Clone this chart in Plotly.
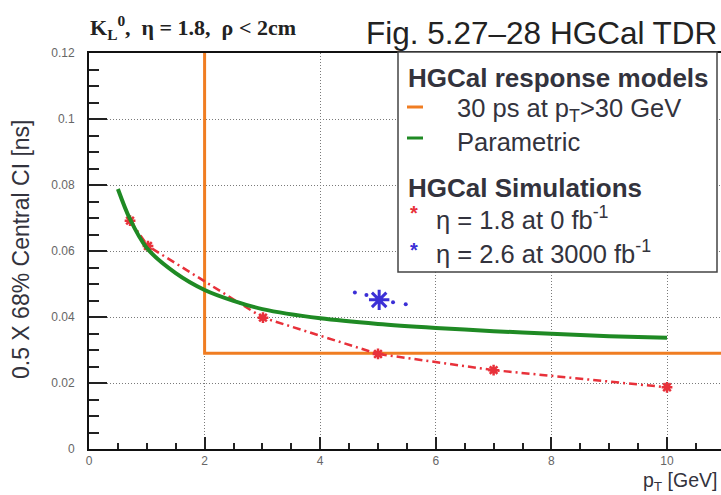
import plotly.graph_objects as go

# ---- data ----
orange_x = [2.0, 2.0, 11.5]
orange_y = [0.12, 0.029, 0.029]

green_x = [0.5, 0.7, 1.0, 1.5, 2.0, 2.5, 3.0, 4.0, 5.0, 6.0, 7.0, 8.0, 9.0, 10.0]
green_y = [0.0788, 0.0700, 0.0609, 0.0533, 0.0482, 0.0449, 0.0424, 0.0396, 0.0379, 0.0367, 0.0357, 0.0349, 0.0342, 0.0337]

red_x = [0.71, 1.02, 3.01, 5.0, 7.0, 10.0]
red_y = [0.0692, 0.0615, 0.0398, 0.0288, 0.0239, 0.0187]

blue_x = [5.02]
blue_y = [0.0452]
blue_dots_x = [4.6, 4.8, 5.26, 5.48]
blue_dots_y = [0.0474, 0.0467, 0.0445, 0.0439]

y_ticks = [0, 0.02, 0.04, 0.06, 0.08, 0.10, 0.12]
y_ticktext = ["0", "0.02", "0.04", "0.06", "0.08", "0.1", "0.12"]
x_ticks = [0, 2, 4, 6, 8, 10]
x_ticktext = ["0", "2", "4", "6", "8", "10"]

# ---- layout geometry (pixels) ----
W, H = 721, 495
L, R, T, B = 89, 0, 53, 46
PW, PH = W - L - R, H - T - B
X_MAX = PW / 57.8


def px(x):
    return (x - L) / PW


def py(y):
    return (H - B - y) / PH


ORANGE = "#f07d22"
GREEN = "#1f8a24"
RED = "#e8313a"
BLUE = "#3b2fd6"
TXT = "#33333d"

fig = go.Figure()

fig.add_trace(go.Scatter(x=orange_x, y=orange_y, mode="lines",
                         line=dict(color=ORANGE, width=3), hoverinfo="skip"))
fig.add_trace(go.Scatter(x=red_x, y=red_y, mode="lines+markers",
                         line=dict(color=RED, width=2.5, dash="8px,4px,2px,4px"),
                         marker=dict(symbol="asterisk-open", size=9, color=RED,
                                     line=dict(color=RED, width=2.5))))
fig.add_trace(go.Scatter(x=green_x, y=green_y, mode="lines",
                         line=dict(color=GREEN, width=4, shape="spline", smoothing=0.8)))
fig.add_trace(go.Scatter(x=blue_dots_x, y=blue_dots_y, mode="markers",
                         marker=dict(symbol="circle", size=4, color=BLUE)))
fig.add_trace(go.Scatter(x=blue_x, y=blue_y, mode="markers",
                         marker=dict(symbol="asterisk-open", size=17, color=BLUE,
                                     line=dict(color=BLUE, width=3))))

shapes = [
    dict(type="rect", xref="paper", yref="paper",
         x0=px(398), x1=px(717), y0=py(272), y1=py(52),
         line=dict(color="#444", width=1.5), fillcolor="white", layer="above"),
    dict(type="line", xref="paper", yref="paper",
         x0=px(407), x1=px(423), y0=py(107), y1=py(107),
         line=dict(color=ORANGE, width=3), layer="above"),
    dict(type="line", xref="paper", yref="paper",
         x0=px(407), x1=px(423), y0=py(138), y1=py(138),
         line=dict(color=GREEN, width=3), layer="above"),
]

SANS = "Liberation Sans, Arial, sans-serif"
annotations = [
    dict(text="<b>HGCal response models</b>", x=px(406), y=py(78),
         xanchor="left", yanchor="middle", font=dict(size=26, color=TXT, family=SANS)),
    dict(text="30 ps at p<sub>T</sub>>30 GeV", x=px(455), y=py(110),
         xanchor="left", yanchor="middle", font=dict(size=25.5, color=TXT, family=SANS)),
    dict(text="Parametric", x=px(455), y=py(142),
         xanchor="left", yanchor="middle", font=dict(size=25.5, color=TXT, family=SANS)),
    dict(text="<b>HGCal Simulations</b>", x=px(406), y=py(188),
         xanchor="left", yanchor="middle", font=dict(size=26, color=TXT, family=SANS)),
    dict(text="η = 1.8 at 0 fb<sup>-1</sup>", x=px(434), y=py(218),
         xanchor="left", yanchor="middle", font=dict(size=25.5, color=TXT, family=SANS)),
    dict(text="η = 2.6 at 3000 fb<sup>-1</sup>", x=px(434), y=py(252),
         xanchor="left", yanchor="middle", font=dict(size=25.5, color=TXT, family=SANS)),
    dict(text="<b>*</b>", x=px(414), y=py(213), xanchor="center", yanchor="middle",
         font=dict(size=20, color=RED, family=SANS)),
    dict(text="<b>*</b>", x=px(414), y=py(250), xanchor="center", yanchor="middle",
         font=dict(size=20, color=BLUE, family=SANS)),
    dict(text="Fig. 5.27–28 HGCal TDR", x=px(719), y=py(33),
         xanchor="right", yanchor="middle", font=dict(size=31.5, color="#222", family=SANS)),
    dict(text="<b>K<sub>L</sub><sup>0</sup>,  η = 1.8,  ρ < 2cm</b>", x=px(88), y=py(28),
         xanchor="left", yanchor="middle",
         font=dict(size=22, color="#222", family="Liberation Serif, Times New Roman, serif")),
    dict(text="0.5 X 68% Central CI [ns]", x=px(21), y=py(249), textangle=-90,
         xanchor="center", yanchor="middle", font=dict(size=23, color=TXT, family=SANS)),
    dict(text="p<sub>T</sub> [GeV]", x=px(719), y=py(481),
         xanchor="right", yanchor="middle", font=dict(size=19.5, color=TXT, family=SANS)),
]
for a in annotations:
    a.update(xref="paper", yref="paper", showarrow=False)

fig.update_layout(
    width=W, height=H,
    margin=dict(l=L, r=R, t=T, b=B, pad=0),
    paper_bgcolor="white", plot_bgcolor="white",
    showlegend=False,
    shapes=shapes, annotations=annotations,
    xaxis=dict(range=[0, X_MAX], tickvals=x_ticks, ticktext=x_ticktext,
               ticks="inside", ticklen=12, tickwidth=1.5, tickcolor="#222",
               minor=dict(dtick=0.5, tick0=0, ticks="inside", ticklen=6,
                          tickwidth=1.5, tickcolor="#222", showgrid=False),
               showgrid=True, gridcolor="#7a7a7a", griddash="1px,2px", gridwidth=1.2,
               showline=True, linecolor="#111", linewidth=2, mirror=True,
               zeroline=False, ticklabelstandoff=0,
               tickfont=dict(size=12, color="#666", family=SANS)),
    yaxis=dict(range=[0, 0.12], tickvals=y_ticks, ticktext=y_ticktext,
               ticks="inside", ticklen=18, tickwidth=1.5, tickcolor="#222",
               minor=dict(dtick=0.005, tick0=0, ticks="inside", ticklen=10,
                          tickwidth=1.5, tickcolor="#222", showgrid=False),
               showgrid=True, gridcolor="#7a7a7a", griddash="1px,2px", gridwidth=1.2,
               showline=True, linecolor="#111", linewidth=2, mirror=False,
               zeroline=False, ticklabelstandoff=10,
               tickfont=dict(size=12, color="#666", family=SANS)),
)

fig.write_html("out.html")
